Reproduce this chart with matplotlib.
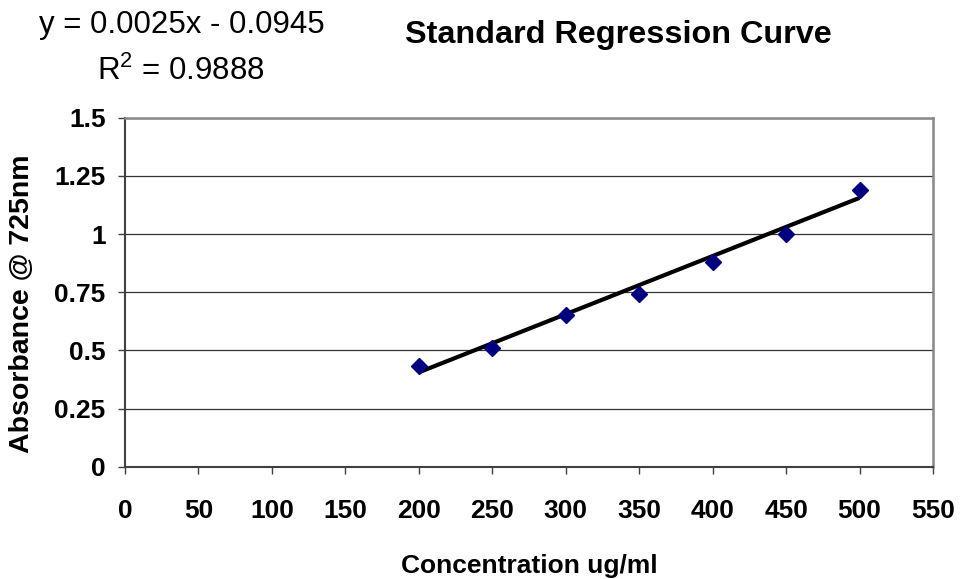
import numpy as np
import matplotlib
matplotlib.use('Agg')
import matplotlib.pyplot as plt

plt.rcParams['font.family'] = ['Liberation Sans', 'DejaVu Sans']
plt.rcParams['mathtext.fontset'] = 'custom'
plt.rcParams['mathtext.rm'] = 'Liberation Sans'

# concentration (ug/ml) and absorbance
conc = [200, 250, 300, 350, 400, 450, 500]
absorbance = [0.434, 0.511, 0.650, 0.744, 0.880, 0.999, 1.190]

x_ticks = [0, 50, 100, 150, 200, 250, 300, 350, 400, 450, 500, 550]
y_ticks = [0, 0.25, 0.5, 0.75, 1, 1.25, 1.5]
y_tick_labels = ['0', '0.25', '0.5', '0.75', '1', '1.25', '1.5']

slope = 0.0025
intercept = -0.0945
r_squared = 0.9888

fig = plt.figure(figsize=(9.6, 5.79), dpi=100)
ax = fig.add_axes([0.1302, 0.1940, 0.8417, 0.6027])

ax.set_xlim(0, 550)
ax.set_ylim(0, 1.5)
ax.set_xticks(x_ticks)
ax.set_yticks(y_ticks)
ax.set_yticklabels(y_tick_labels)

ax.yaxis.grid(True, color='#333333', linewidth=0.9)
ax.set_axisbelow(True)

# trend line from the displayed equation
fit_x = np.array([conc[0], conc[-1]])
ax.plot(fit_x, slope * fit_x + intercept, color='black', linewidth=3.0,
        solid_capstyle='butt', zorder=2)
ax.plot(conc, absorbance, linestyle='none', marker='D', markersize=8,
        color='#000080', markeredgecolor='#000080', zorder=3)

for side in ['top', 'right']:
    ax.spines[side].set_color('#888888')
    ax.spines[side].set_linewidth(1.8)
for side in ['left', 'bottom']:
    ax.spines[side].set_color('#404040')
    ax.spines[side].set_linewidth(1.5)

ax.tick_params(axis='both', direction='out', length=5, width=1, color='#404040',
               labelsize=19)
ax.tick_params(axis='x', pad=18)
ax.tick_params(axis='y', pad=9)
for lbl in ax.get_xticklabels() + ax.get_yticklabels():
    lbl.set_fontweight('bold')

fig.text(618.5 / 960, 1 - 43 / 579, 'Standard Regression Curve',
         ha='center', va='baseline', fontsize=23.3, fontweight='bold')
fig.text(181.5 / 960, 1 - 32.5 / 579, 'y = %.4fx - %.4f' % (slope, -intercept),
         ha='center', va='baseline', fontsize=22.5)
fig.text(180.5 / 960, 1 - 80 / 579, 'R$^{2}$ = %.4f' % r_squared,
         ha='center', va='baseline', fontsize=22.5)

fig.text(529 / 960, 1 - 573 / 579, 'Concentration ug/ml',
         ha='center', va='baseline', fontsize=19, fontweight='bold')
fig.text(22 / 960, 1 - 304 / 579, 'Absorbance @ 725nm', rotation=90,
         ha='center', va='center', fontsize=20.5, fontweight='bold')

fig.savefig('out.png', dpi=100)
